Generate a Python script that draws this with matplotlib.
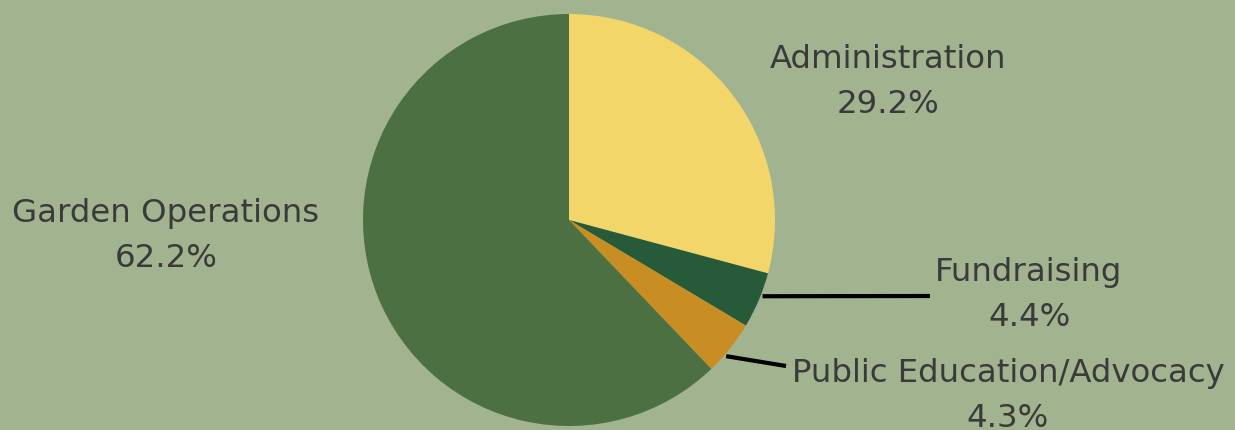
import matplotlib
matplotlib.use("Agg")
import matplotlib.pyplot as plt
import numpy as np

categories = ["Administration", "Fundraising", "Public Education/Advocacy", "Garden Operations"]
values = [29.2, 4.4, 4.3, 62.2]
colors = ["#f3d66a", "#265a38", "#c88e24", "#4d7042"]

W, H = 1235, 430
fig = plt.figure(figsize=(W / 100, H / 100), dpi=100)
bg = "#a1b48f"
fig.patch.set_facecolor(bg)
ax = fig.add_axes([0, 0, 1, 1])
ax.set_facecolor(bg)

cx, cy, r = 569, H - 220, 206
wedges, _ = ax.pie(values, colors=colors, startangle=90, counterclock=False,
                   center=(cx, cy), radius=r, frame=True,
                   wedgeprops=dict(linewidth=0))
ax.set_xlim(0, W)
ax.set_ylim(0, H)
ax.set_aspect("equal")
ax.axis("off")

font = "DejaVu Sans"
tcol = "#3a3a3a"
fs = 23.3
# label block centres (pixels from top-left) - style positions
label_pos = {
    "Administration": (888, 82),
    "Fundraising": (1029, 295),
    "Public Education/Advocacy": (1008, 396),
    "Garden Operations": (166, 236),
}
# leader lines: (start angle on rim in degrees, end point in pixels)
leaders = {
    "Fundraising": (-21.5, (930, 296)),
    "Public Education/Advocacy": (-40.9, (786, 366)),
}
for w, name, v in zip(wedges, categories, values):
    px, py = label_pos[name]
    ax.text(px, H - py, f"{name}\n{v:.1f}%", ha="center", va="center",
            multialignment="center", fontsize=fs, family=font, color=tcol,
            linespacing=1.6)
    if name in leaders:
        a, (ex, ey) = leaders[name]
        ang = np.deg2rad(a)
        x0 = cx + (r + 2) * np.cos(ang)
        y0 = cy + (r + 2) * np.sin(ang)
        ax.plot([x0, ex], [y0, H - ey], color="black", lw=3, solid_capstyle="butt")

fig.savefig("out.png", dpi=100, facecolor=bg)
